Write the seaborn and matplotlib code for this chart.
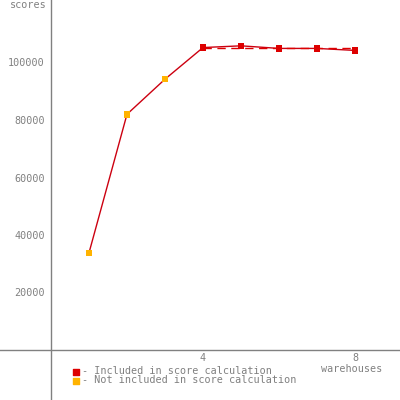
import matplotlib
matplotlib.use("Agg")
import matplotlib.pyplot as plt
import seaborn as sns
import pandas as pd

warehouses = [1, 2, 3, 4, 5, 6, 7, 8]
scores = [33800, 82000, 94200, 105200, 105800, 104900, 104900, 104200]
included = [False, False, False, True, True, True, True, True]
y_ticks = [20000, 40000, 60000, 80000, 100000]
x_ticks = [4, 8]
legend_labels = ["- Included in score calculation", "- Not included in score calculation"]

df = pd.DataFrame({"wh": warehouses, "score": scores, "inc": included})

sns.set_style("white")
plt.rcParams['font.family'] = ['DejaVu Sans Mono']

fig = plt.figure(figsize=(4, 4), dpi=100)
ax = fig.add_axes([0, 0, 1, 1])
ax.set_xlim(-51 / 38, 349 / 38)
ax.set_ylim(-50 / 57.5 * 20000, 350 / 57.5 * 20000)

grey = "#808080"
red = "#dd0000"
orange = "#ffb300"

sns.lineplot(data=df, x="wh", y="score", color="#cc0010", linewidth=1.0, ax=ax, legend=False)
inc = df[df["inc"]]
mean_score = inc["score"].mean()
ax.plot([inc["wh"].min(), inc["wh"].max()], [mean_score, mean_score], color=red,
        linewidth=1.0, dashes=(6, 4))
sns.scatterplot(data=df[~df["inc"]], x="wh", y="score", color=orange, marker="s", s=22,
                edgecolor="none", ax=ax, legend=False, zorder=5)
sns.scatterplot(data=inc, x="wh", y="score", color=red, marker="s", s=22,
                edgecolor="none", ax=ax, legend=False, zorder=5)

for side in ["top", "right"]:
    ax.spines[side].set_visible(False)
ax.spines["left"].set_position(("data", 0))
ax.spines["bottom"].set_position(("data", 0))
for side in ["left", "bottom"]:
    ax.spines[side].set_color(grey)
    ax.spines[side].set_linewidth(1.0)

ax.set_xticks(x_ticks)
ax.set_yticks(y_ticks)
ax.set_xticklabels([str(v) for v in x_ticks])
ax.set_yticklabels([str(v) for v in y_ticks])
ax.tick_params(axis="both", direction="inout", length=9, width=0.8, color=grey,
               labelcolor=grey, labelsize=7.3)
ax.tick_params(axis="x", pad=-2)
ax.tick_params(axis="y", pad=0)
ax.set_xlabel("")
ax.set_ylabel("")

ax.text(28 / 400, 1 - 5 / 400, "scores", transform=ax.transAxes, ha="center", va="center",
        color=grey, fontsize=7.3)
ax.text(352 / 400, 1 - 369 / 400, "warehouses", transform=ax.transAxes, ha="center",
        va="center", color=grey, fontsize=7.3)

for i, (lab, col) in enumerate(zip(legend_labels, [red, orange])):
    yy = 1 - (372 + 9 * i) / 400
    ax.scatter([76 / 400], [yy], transform=ax.transAxes, marker="s", s=14, color=col,
               clip_on=False)
    ax.text(82 / 400, yy + 1 / 400, lab, transform=ax.transAxes, ha="left", va="center",
            color=grey, fontsize=7.3)

fig.savefig("out.png", dpi=100, facecolor="white")
